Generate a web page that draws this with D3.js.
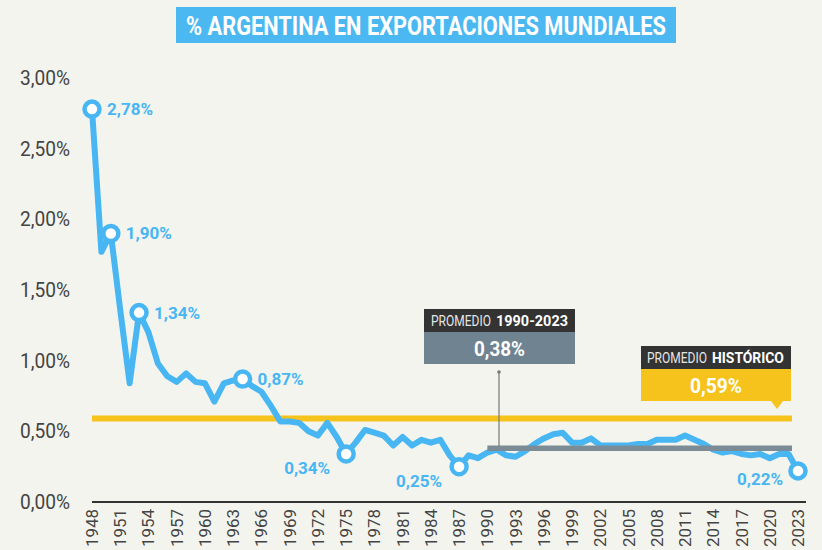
<!DOCTYPE html>
<html>
<head>
<meta charset="utf-8">
<script src="https://cdn.jsdelivr.net/npm/d3@7"></script>
<style>
  html, body { margin: 0; padding: 0; background: #f4f4ee; }
  svg { display: block; }
  .cond { font-family: "Roboto", "Liberation Sans", sans-serif; }
</style>
</head>
<body>
<div id="chart"></div>
<script>
// datos
var years = [1948,1949,1950,1951,1952,1953,1954,1955,1956,1957,1958,1959,1960,1961,1962,1963,1964,1965,1966,1967,
  1968,1969,1970,1971,1972,1973,1974,1975,1976,1977,1978,1979,1980,1981,1982,1983,1984,1985,1986,1987,
  1988,1989,1990,1991,1992,1993,1994,1995,1996,1997,1998,1999,2000,2001,2002,2003,2004,2005,2006,2007,
  2008,2009,2010,2011,2012,2013,2014,2015,2016,2017,2018,2019,2020,2021,2022,2023];
var share = [2.78,1.77,1.90,1.36,0.84,1.34,1.20,0.98,0.89,0.85,0.91,0.85,0.84,0.71,0.84,0.86,0.87,0.82,0.78,0.68,
  0.57,0.57,0.56,0.50,0.47,0.56,0.46,0.34,0.42,0.51,0.49,0.47,0.40,0.46,0.40,0.44,0.42,0.44,0.33,0.25,
  0.33,0.31,0.35,0.37,0.33,0.32,0.36,0.41,0.45,0.48,0.49,0.42,0.42,0.45,0.40,0.40,0.40,0.40,0.41,0.41,
  0.44,0.44,0.44,0.47,0.44,0.41,0.37,0.35,0.36,0.34,0.33,0.34,0.31,0.34,0.34,0.22];
var highlightYears = [1948, 1950, 1953, 1964, 1975, 1987, 2023];
var yTicks = [0, 0.5, 1, 1.5, 2, 2.5, 3];
var xTickYears = [1948,1951,1954,1957,1960,1963,1966,1969,1972,1975,1978,1981,1984,1987,1990,1993,1996,1999,2002,2005,2008,2011,2014,2017,2020,2023];
var avgHist = 0.59;
var avgRecent = 0.38;
var recentStart = 1990;
var title = "% ARGENTINA EN EXPORTACIONES MUNDIALES";

var W = 822, H = 550;
var blue = "#48b6f2", gold = "#f6c21c", slate = "#7c8c96";

var fmt = function(v){ return d3.format(".2f")(v).replace(".", ",") + "%"; };

var svg = d3.select("#chart").append("svg").attr("width", W).attr("height", H);
svg.append("rect").attr("width", W).attr("height", H).attr("fill", "#f4f4ee");

var x = d3.scaleLinear().domain([1948, 2023]).range([92, 798]);
var y = d3.scaleLinear().domain([0, 3]).range([502, 78]);

var data = years.map(function(yr, i){ return {year: yr, v: share[i]}; });

// estrecha un texto a un ancho dado (simula la tipografia condensada)
function squeeze(sel, px, py, target) {
  sel.each(function(){
    var len = this.getComputedTextLength();
    var k = len > 0 ? target / len : 1;
    d3.select(this).attr("transform", "translate(" + px + "," + py + ") scale(" + k + ",1)");
  });
}

// titulo
svg.append("rect").attr("x", 176).attr("y", 7).attr("width", 500).attr("height", 36).attr("fill", "#4cb8f1");
svg.append("text").attr("class", "cond").attr("x", 426).attr("y", 35)
  .attr("text-anchor", "middle").attr("fill", "#fff")
  .attr("font-size", 26).attr("font-weight", "bold")
  .attr("textLength", 480).attr("lengthAdjust", "spacingAndGlyphs")
  .text(title);

// eje y (solo etiquetas)
svg.append("g").selectAll("text").data(yTicks).enter().append("text")
  .attr("class", "cond")
  .attr("x", 70).attr("y", function(d){ return y(d) + 7; })
  .attr("text-anchor", "end").attr("fill", "#444").attr("font-size", 20)
  .attr("textLength", 50).attr("lengthAdjust", "spacingAndGlyphs")
  .text(function(d){ return fmt(d); });

// eje x
svg.append("line").attr("x1", 92).attr("x2", 806).attr("y1", y(0)).attr("y2", y(0))
  .attr("stroke", "#333").attr("stroke-width", 2.2);
svg.append("g").selectAll("text").data(xTickYears).enter().append("text")
  .attr("class", "cond")
  .attr("transform", function(d){ return "translate(" + (x(d) + 6) + ",509) rotate(-90)"; })
  .attr("text-anchor", "end").attr("fill", "#444").attr("font-size", 16)
  .attr("textLength", 38).attr("lengthAdjust", "spacingAndGlyphs")
  .text(function(d){ return d; });

// promedio historico
svg.append("line").attr("x1", x(1948)).attr("x2", 792).attr("y1", y(avgHist)).attr("y2", y(avgHist))
  .attr("stroke", gold).attr("stroke-width", 6);

// linea principal
var line = d3.line().x(function(d){ return x(d.year); }).y(function(d){ return y(d.v); });
svg.append("path").datum(data).attr("d", line)
  .attr("fill", "none").attr("stroke", blue).attr("stroke-width", 6)
  .attr("stroke-linejoin", "round").attr("stroke-linecap", "round");

// promedio 1990-2023
svg.append("line").attr("x1", x(recentStart)).attr("x2", 792).attr("y1", y(avgRecent)).attr("y2", y(avgRecent))
  .attr("stroke", slate).attr("stroke-width", 5.5);

// conector del recuadro gris
svg.append("line").attr("x1", 499).attr("x2", 499).attr("y1", 372).attr("y2", y(avgRecent) - 2)
  .attr("stroke", "#777").attr("stroke-width", 1.2);
svg.append("circle").attr("cx", 499).attr("cy", 372).attr("r", 1.8).attr("fill", "#777");

// recuadros de promedio
function header(g, x0, bold) {
  g.append("text").attr("class", "cond")
    .attr("fill", "#e6e6e6").attr("font-size", 15)
    .text("PROMEDIO")
    .call(squeeze, x0, 17, 60);
  g.append("text").attr("class", "cond")
    .attr("fill", "#fff").attr("font-size", 15).attr("font-weight", "bold")
    .text(bold)
    .call(squeeze, x0 + 65, 17, 72);
}

var b1 = svg.append("g").attr("transform", "translate(424,309)");
b1.append("rect").attr("width", 151).attr("height", 23).attr("fill", "#333");
b1.append("rect").attr("y", 23).attr("width", 151).attr("height", 32).attr("fill", "#6f8390");
header(b1, 7, "1990-2023");
b1.append("text").attr("class", "cond").attr("x", 75.5).attr("y", 47)
  .attr("text-anchor", "middle").attr("fill", "#fff").attr("font-size", 21).attr("font-weight", "bold")
  .attr("textLength", 51).attr("lengthAdjust", "spacingAndGlyphs")
  .text(fmt(avgRecent));

var b2 = svg.append("g").attr("transform", "translate(641,346)");
b2.append("rect").attr("width", 150).attr("height", 23).attr("fill", "#333");
b2.append("path").attr("d", "M0,23 H150 V55 H142 L136,63 L130,55 H0 Z").attr("fill", gold);
header(b2, 6, "HISTÓRICO");
b2.append("text").attr("class", "cond").attr("x", 75).attr("y", 47)
  .attr("text-anchor", "middle").attr("fill", "#fff").attr("font-size", 21).attr("font-weight", "bold")
  .attr("textLength", 52).attr("lengthAdjust", "spacingAndGlyphs")
  .text(fmt(avgHist));

// puntos destacados
var hi = data.filter(function(d){ return highlightYears.indexOf(d.year) >= 0; });
svg.append("g").selectAll("circle").data(hi).enter().append("circle")
  .attr("cx", function(d){ return x(d.year); }).attr("cy", function(d){ return y(d.v); })
  .attr("r", 7.5).attr("fill", "#fff").attr("stroke", blue).attr("stroke-width", 4.5);

// etiquetas: a la derecha para las primeras, abajo-izquierda para las otras
var labelPos = {1948: [15, 6, "start"], 1950: [15, 6, "start"], 1953: [15, 6, "start"], 1964: [15, 6, "start"],
  1975: [-16, 20, "end"], 1987: [-17, 20, "end"], 2023: [-15, 14, "end"]};
svg.append("g").selectAll("text").data(hi).enter().append("text")
  .attr("class", "cond")
  .attr("x", function(d){ return x(d.year) + labelPos[d.year][0]; })
  .attr("y", function(d){ return y(d.v) + labelPos[d.year][1]; })
  .attr("text-anchor", function(d){ return labelPos[d.year][2]; })
  .attr("fill", blue).attr("font-size", 17).attr("font-weight", "bold")
  .attr("textLength", 46).attr("lengthAdjust", "spacingAndGlyphs")
  .text(function(d){ return fmt(d.v); });
</script>
</body>
</html>
